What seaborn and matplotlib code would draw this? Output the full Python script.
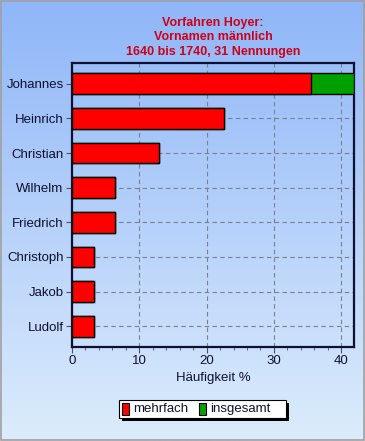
import numpy as np
import pandas as pd
import matplotlib
matplotlib.use("Agg")
import matplotlib.pyplot as plt
import seaborn as sns
from matplotlib.patches import Rectangle
from matplotlib.ticker import MultipleLocator

names = ["Johannes", "Heinrich", "Christian", "Wilhelm", "Friedrich", "Christoph", "Jakob", "Ludolf"]
mehrfach = [35.5, 22.6, 12.9, 6.45, 6.45, 3.23, 3.23, 3.23]
insgesamt = [41.9, 22.6, 12.9, 6.45, 6.45, 3.23, 3.23, 3.23]
title_lines = ["Vorfahren Hoyer:", "Vornamen männlich", "1640 bis 1740, 31 Nennungen"]

df = pd.DataFrame({"Name": names, "mehrfach": mehrfach, "insgesamt": insgesamt})

sns.set_theme(style="white")
plt.rcParams["font.family"] = ["Liberation Sans", "DejaVu Sans"]

W, H = 365, 441
fig = plt.figure(figsize=(W / 100, H / 100), dpi=100)

# gradient background
bg = fig.add_axes([0, 0, 1, 1])
top = np.array([0x8f, 0xb6, 0xf8]) / 255
bot = np.array([0xdc, 0xec, 0xfc]) / 255
t = np.linspace(0, 1, 256)[:, None]
grad = top[None, :] * (1 - t) + bot[None, :] * t
bg.imshow(grad[:, None, :], aspect="auto", extent=[0, 1, 0, 1])
bg.add_patch(Rectangle((0.0015, 0.002), 0.995, 0.995, fill=False, edgecolor="#a0a0a0", lw=1.2))
bg.set_xlim(0, 1); bg.set_ylim(0, 1)
bg.axis("off")

l, r, tp, b = 72, 354, 63, 347
ax = fig.add_axes([l / W, 1 - b / H, (r - l) / W, (b - tp) / H])
ax.patch.set_alpha(0)

sns.barplot(data=df, y="Name", x="insgesamt", orient="h", color="#00a000",
            edgecolor="black", linewidth=1, width=0.6, ax=ax, zorder=3, saturation=1)
sns.barplot(data=df, y="Name", x="mehrfach", orient="h", color="#ff0000",
            edgecolor="black", linewidth=1, width=0.6, ax=ax, zorder=4, saturation=1)

ax.set_xlim(0, 41.9)
ax.set_ylim(7.6, -0.6)
ax.xaxis.set_major_locator(MultipleLocator(10))
ax.xaxis.set_minor_locator(MultipleLocator(2))
ax.grid(True, axis="x", which="major", linestyle=(0, (4, 3)), color="#7a8090", lw=0.8, zorder=1)
ax.grid(True, axis="y", which="major", linestyle=(0, (4, 3)), color="#7a8090", lw=0.8, zorder=1)
ax.set_axisbelow(True)
for s in ax.spines.values():
    s.set_color("#101030")
    s.set_linewidth(1.6)
ax.tick_params(axis="both", which="major", direction="out", length=4, width=0.8, color="#505060",
               labelsize=9.5, labelcolor="#101030", bottom=True, left=True, pad=2)
ax.tick_params(axis="x", which="minor", direction="out", length=2, width=0.6, color="#505060", bottom=True)
ax.set_ylabel("")
ax.set_xlabel("Häufigkeit %", fontsize=9.5, color="#101030", labelpad=3)

fig.text(0.5 * (l + r) / W, 1 - 37.5 / H, "\n".join(title_lines), ha="center", va="center",
         color="#d00018", fontsize=9, fontweight="bold", linespacing=1.25)

# legend box with shadow
lx0, ly0, lx1, ly1 = 119, 400, 286, 418
bg.add_patch(Rectangle(((lx0 + 3) / W, 1 - (ly1 + 3) / H), (lx1 - lx0) / W, (ly1 - ly0) / H,
                       facecolor="black", edgecolor="none", zorder=5))
bg.add_patch(Rectangle((lx0 / W, 1 - ly1 / H), (lx1 - lx0) / W, (ly1 - ly0) / H,
                       facecolor="white", edgecolor="black", lw=0.8, zorder=6))
items = [("mehrfach", "#ff0000", 122), ("insgesamt", "#00a000", 199)]
for lab, col, x in items:
    bg.add_patch(Rectangle((x / W, 1 - 415 / H), 7 / W, 12 / H, facecolor=col,
                           edgecolor="black", lw=0.8, zorder=7))
    bg.text((x + 11) / W, 1 - 409 / H, lab, ha="left", va="center", fontsize=9.5,
            color="#101030", zorder=7)

fig.savefig("out.png", dpi=100)
